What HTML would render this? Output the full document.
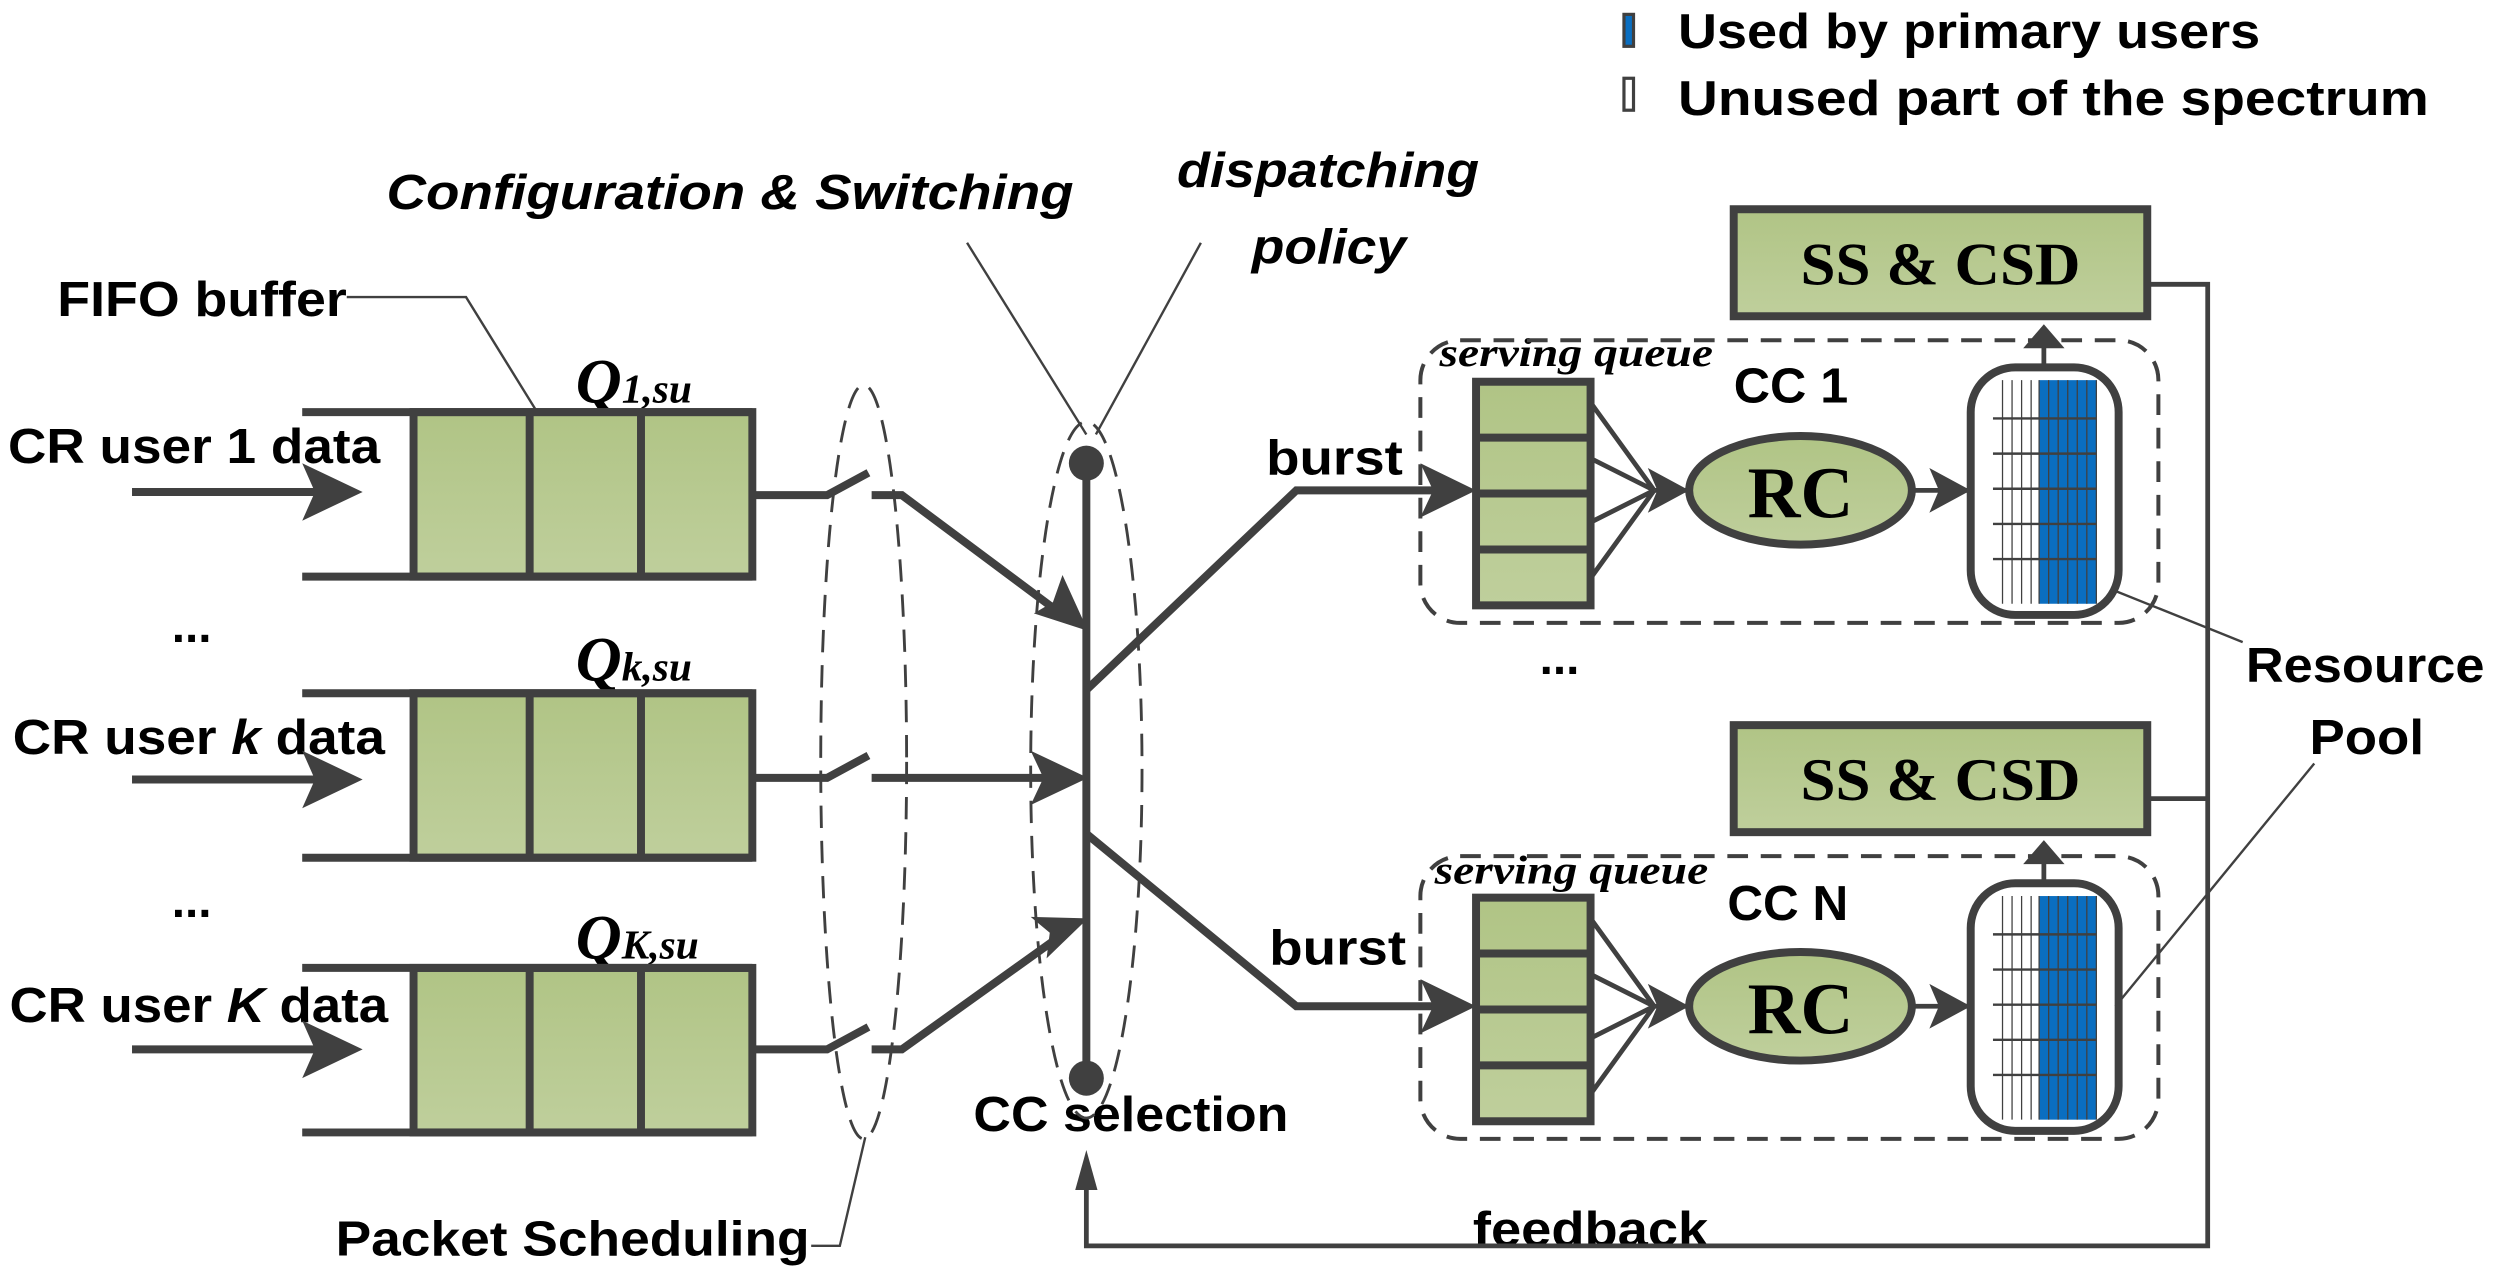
<!DOCTYPE html>
<html><head><meta charset="utf-8"><style>html,body{margin:0;padding:0;background:#fff}svg{display:block}</style></head>
<body>
<svg width="2494" height="1273" viewBox="0 0 1568 797" preserveAspectRatio="none" xmlns="http://www.w3.org/2000/svg">
<defs>
<linearGradient id="g" x1="0" y1="0" x2="0" y2="1"><stop offset="0" stop-color="#b0c485"/><stop offset="1" stop-color="#bfcf9c"/></linearGradient>
<clipPath id="pc"><rect x="1241" y="232" width="89" height="151" rx="26"/></clipPath>
<g id="grid">
<g clip-path="url(#pc)">
<rect x="1253" y="238" width="29" height="140" fill="#fff"/>
<rect x="1282" y="238" width="36" height="140" fill="#0a6ec0"/>
<path d="M1259,238V378M1265,238V378M1271,238V378M1277,238V378M1282,238V378M1288,238V378M1294,238V378M1300,238V378M1306,238V378M1312,238V378M1318,238V378" stroke="#404040" stroke-width="0.8"/>
<path d="M1253,262H1318M1253,284H1318M1253,306H1318M1253,328H1318M1253,350H1318" stroke="#404040" stroke-width="1.5"/>
</g>
<rect x="1239" y="230" width="93" height="155" rx="28" fill="none" stroke="#404040" stroke-width="5"/>
</g>
</defs>
<g font-family="Liberation Sans, sans-serif" font-weight="bold" fill="#000">
<rect x="1021" y="9" width="6" height="20" fill="#0a6ec0" stroke="#404040" stroke-width="2"/>
<rect x="1021" y="49" width="6" height="20" fill="#fff" stroke="#404040" stroke-width="2"/>
<text x="1055" y="30" font-size="31" textLength="366" lengthAdjust="spacingAndGlyphs">Used by primary users</text>
<text x="1055" y="72" font-size="31" textLength="472" lengthAdjust="spacingAndGlyphs">Unused part of the spectrum</text>
<text x="243" y="131" font-size="31" font-style="italic" textLength="432" lengthAdjust="spacingAndGlyphs">Configuration &amp; Switching</text>
<text x="740" y="117" font-size="31" font-style="italic" textLength="190" lengthAdjust="spacingAndGlyphs">dispatching</text>
<text x="787" y="165" font-size="31" font-style="italic" textLength="97" lengthAdjust="spacingAndGlyphs">policy</text>
<text x="36" y="198" font-size="31" textLength="182" lengthAdjust="spacingAndGlyphs">FIFO buffer</text>
<text x="5" y="290" font-size="31" textLength="234" lengthAdjust="spacingAndGlyphs">CR user 1 data</text>
<text x="8" y="472" font-size="31" textLength="234" lengthAdjust="spacingAndGlyphs">CR user <tspan font-style="italic">k</tspan> data</text>
<text x="6" y="640" font-size="31" textLength="238" lengthAdjust="spacingAndGlyphs">CR user <tspan font-style="italic">K</tspan> data</text>
<text x="108" y="402" font-size="30">...</text>
<text x="108" y="574" font-size="30">...</text>
<text x="968" y="422" font-size="30">...</text>
<text x="796" y="297" font-size="31" textLength="86" lengthAdjust="spacingAndGlyphs">burst</text>
<text x="798" y="604" font-size="31" textLength="86" lengthAdjust="spacingAndGlyphs">burst</text>
<text x="612" y="708" font-size="31" textLength="198" lengthAdjust="spacingAndGlyphs">CC selection</text>
<text x="211" y="786" font-size="31" textLength="298" lengthAdjust="spacingAndGlyphs">Packet Scheduling</text>
<text x="926" y="780" font-size="31" textLength="148" lengthAdjust="spacingAndGlyphs">feedback</text>
<text x="1412" y="427" font-size="31" textLength="150" lengthAdjust="spacingAndGlyphs">Resource</text>
<text x="1452" y="472" font-size="31" textLength="72" lengthAdjust="spacingAndGlyphs">Pool</text>
<text x="1090" y="252" font-size="31" textLength="72" lengthAdjust="spacingAndGlyphs">CC 1</text>
<text x="1086" y="576" font-size="31" textLength="76" lengthAdjust="spacingAndGlyphs">CC N</text>
</g>
<g font-family="Liberation Serif, serif" font-style="italic" font-weight="bold" fill="#000">
<text x="362" y="252" font-size="40">Q<tspan font-size="26">1,su</tspan></text>
<text x="362" y="426" font-size="40">Q<tspan font-size="26">k,su</tspan></text>
<text x="362" y="600" font-size="40">Q<tspan font-size="26">K,su</tspan></text>
<text x="905" y="229" font-size="25" textLength="172" lengthAdjust="spacingAndGlyphs">serving queue</text>
<text x="902" y="553" font-size="25" textLength="172" lengthAdjust="spacingAndGlyphs">serving queue</text>
</g>
<g stroke="#404040" stroke-width="1.5" fill="none">
<path d="M218,186H293L370,310"/>
<path d="M608,152L683,272"/>
<path d="M755,152L689,272"/>
<path d="M510,780H528L544,712"/>
<path d="M1330,370L1410,402"/>
<path d="M1330,630L1455,478"/>
</g>
<g stroke="#404040" stroke-width="5">
<g id="q1">
<rect x="260" y="258" width="213" height="103" fill="url(#g)"/>
<path d="M333,258V361M403,258V361M190,258H473M190,361H473" fill="none"/>
</g>
<use href="#q1" transform="translate(0,176)"/>
<use href="#q1" transform="translate(0,348)"/>
</g>
<g stroke="#404040" stroke-width="5" fill="none">
<path d="M83,308H205"/><path d="M83,488H205"/><path d="M83,657H205"/>
</g>
<g fill="#404040">
<path d="M190,290L228,308L190,326L198,308z"/><path d="M190,470L228,488L190,506L198,488z"/><path d="M190,639L228,657L190,675L198,657z"/>
</g>
<g stroke="#404040" stroke-width="5" fill="none">
<path d="M473,310H520L546,296"/><path d="M548,310H567L668,385"/>
<path d="M473,487H520L546,473"/><path d="M548,487H665"/>
<path d="M473,657H520L546,643"/><path d="M548,657H567L668,585"/>
<path d="M683,290V675"/>
<path d="M683,432L815,307H915"/><path d="M683,522L815,630H915"/>
</g>
<g fill="#404040">
<path d="M684,395L650,384L662,377L668,360z"/>
<path d="M684,487L648,470L656,487L648,504z"/>
<path d="M684,575L648,574L660,584L658,600z"/>
<path d="M928,307L893,290L901,307L893,324z"/>
<path d="M928,630L893,613L901,630L893,647z"/>
<circle cx="683" cy="290" r="11"/><circle cx="683" cy="675" r="11"/>
</g>
<g stroke="#404040" stroke-width="1.8" fill="none" stroke-dasharray="14,8">
<ellipse cx="543" cy="477" rx="27" ry="236"/>
<ellipse cx="683" cy="482" rx="35" ry="218"/>
</g>
<g id="cc">
<rect x="893" y="213" width="464" height="177" rx="25" fill="none" stroke="#404040" stroke-width="2.5" stroke-dasharray="13,8"/>
<g stroke="#404040" stroke-width="5">
<rect x="928" y="239" width="72" height="140" fill="url(#g)"/>
<path d="M928,274H1000M928,309H1000M928,344H1000"/>
</g>
<g stroke="#404040" stroke-width="3" fill="none">
<path d="M1000,252L1040,307M1000,287L1040,307M1000,327L1040,307M1000,362L1040,307"/>
<path d="M1040,307H1060M1202,307H1237M1285,230V210"/>
</g>
<g fill="#404040">
<path d="M1062,307L1036,293L1042,307L1036,321z"/>
<path d="M1239,307L1213,293L1219,307L1213,321z"/>
<path d="M1285,203L1272,218L1298,218z"/>
</g>
<ellipse cx="1132" cy="307" rx="70" ry="34" fill="url(#g)" stroke="#404040" stroke-width="5"/>
<text x="1132" y="324" font-family="Liberation Serif, serif" font-weight="bold" font-size="46" text-anchor="middle">RC</text>
<use href="#grid"/>
<rect x="1090" y="131" width="260" height="67" fill="url(#g)" stroke="#404040" stroke-width="5"/>
<text x="1220" y="178" font-family="Liberation Serif, serif" font-weight="bold" font-size="38" text-anchor="middle" textLength="176" lengthAdjust="spacingAndGlyphs">SS &amp; CSD</text>
</g>
<use href="#cc" transform="translate(0,323)"/>
<g stroke="#404040" stroke-width="3" fill="none">
<path d="M1350,178H1388V780H683V735"/>
<path d="M1350,500H1388"/>
</g>
<path d="M683,720L676,745L690,745z" fill="#404040"/>
</svg>
</body></html>
